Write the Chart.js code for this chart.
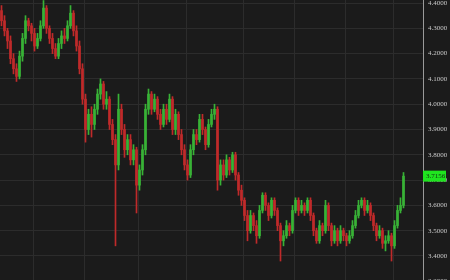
<!DOCTYPE html>
<html>
<head>
<meta charset="utf-8">
<script src="https://cdn.jsdelivr.net/npm/chart.js@4.4.0/dist/chart.umd.min.js"></script>
<style>
  html, body { margin: 0; padding: 0; background: #1b1b1b; }
  #wrap { width: 450px; height: 280px; }
</style>
</head>
<body>
<div id="wrap"><canvas id="pricechart" width="450" height="280"></canvas></div>
<script>
// candle values
const opens = [4.37, 4.33, 4.29, 4.25, 4.18, 4.14, 4.11, 4.19, 4.26, 4.33, 4.31, 4.28, 4.23, 4.26, 4.31, 4.38, 4.30, 4.26, 4.22, 4.19,
  4.24, 4.27, 4.26, 4.31, 4.36, 4.29, 4.23, 4.14, 4.02, 3.90, 3.96, 3.92, 3.98, 4.04, 4.08, 4.00, 4.02, 3.92, 3.86, 3.76,
  3.98, 3.90, 3.82, 3.86, 3.78, 3.82, 3.68, 3.74, 3.82, 3.98, 4.04, 3.98, 4.02, 3.96, 3.92, 3.98, 3.94, 4.02, 3.90, 3.96,
  3.88, 3.82, 3.76, 3.72, 3.82, 3.88, 3.86, 3.94, 3.90, 3.84, 3.92, 3.96, 3.98, 3.70, 3.76, 3.72, 3.78, 3.74, 3.80, 3.72,
  3.66, 3.62, 3.56, 3.50, 3.56, 3.52, 3.48, 3.58, 3.64, 3.60, 3.56, 3.62, 3.58, 3.52, 3.46, 3.48, 3.52, 3.50, 3.58, 3.62,
  3.58, 3.60, 3.58, 3.62, 3.56, 3.50, 3.46, 3.52, 3.50, 3.60, 3.52, 3.46, 3.50, 3.46, 3.50, 3.48, 3.46, 3.48, 3.52, 3.56,
  3.60, 3.62, 3.58, 3.60, 3.56, 3.52, 3.48, 3.50, 3.45, 3.46, 3.48, 3.44, 3.52, 3.58, 3.60]
const closes = [4.33, 4.29, 4.25, 4.18, 4.14, 4.11, 4.19, 4.26, 4.33, 4.31, 4.28, 4.23, 4.26, 4.31, 4.38, 4.30, 4.26, 4.22, 4.19, 4.24,
  4.27, 4.26, 4.31, 4.36, 4.29, 4.23, 4.14, 4.02, 3.90, 3.96, 3.92, 3.98, 4.04, 4.08, 4.00, 4.02, 3.92, 3.86, 3.76, 3.98,
  3.90, 3.82, 3.86, 3.78, 3.82, 3.68, 3.74, 3.82, 3.98, 4.04, 3.98, 4.02, 3.96, 3.92, 3.98, 3.94, 4.02, 3.90, 3.96, 3.88,
  3.82, 3.76, 3.72, 3.82, 3.88, 3.86, 3.94, 3.90, 3.84, 3.92, 3.96, 3.98, 3.70, 3.76, 3.72, 3.78, 3.74, 3.80, 3.72, 3.66,
  3.62, 3.56, 3.50, 3.56, 3.52, 3.48, 3.58, 3.64, 3.60, 3.56, 3.62, 3.58, 3.52, 3.46, 3.48, 3.52, 3.50, 3.58, 3.62, 3.58,
  3.60, 3.58, 3.62, 3.56, 3.50, 3.46, 3.52, 3.50, 3.60, 3.52, 3.46, 3.50, 3.46, 3.50, 3.48, 3.46, 3.48, 3.52, 3.56, 3.60,
  3.62, 3.58, 3.60, 3.56, 3.52, 3.48, 3.50, 3.45, 3.46, 3.48, 3.44, 3.52, 3.58, 3.60, 3.7156]
const highs = [4.39, 4.35, 4.30, 4.27, 4.20, 4.16, 4.21, 4.28, 4.35, 4.34, 4.32, 4.30, 4.28, 4.33, 4.41, 4.39, 4.31, 4.28, 4.24, 4.26,
  4.29, 4.30, 4.33, 4.39, 4.37, 4.31, 4.25, 4.16, 4.04, 3.98, 3.99, 4.00, 4.06, 4.10, 4.09, 4.05, 4.03, 3.94, 3.88, 4.04,
  4.00, 3.92, 3.88, 3.88, 3.84, 3.83, 3.76, 3.84, 4.00, 4.06, 4.05, 4.04, 4.03, 3.98, 4.00, 4.00, 4.04, 4.03, 3.98, 3.97,
  3.90, 3.84, 3.78, 3.84, 3.90, 3.90, 3.96, 3.96, 3.91, 3.94, 3.98, 4.00, 3.99, 3.78, 3.78, 3.80, 3.79, 3.81, 3.81, 3.73,
  3.68, 3.63, 3.58, 3.58, 3.57, 3.54, 3.60, 3.65, 3.65, 3.61, 3.63, 3.63, 3.59, 3.53, 3.50, 3.54, 3.53, 3.60, 3.63, 3.63,
  3.62, 3.61, 3.63, 3.63, 3.57, 3.51, 3.54, 3.53, 3.62, 3.61, 3.53, 3.52, 3.51, 3.52, 3.51, 3.49, 3.50, 3.54, 3.58, 3.62,
  3.63, 3.63, 3.62, 3.61, 3.57, 3.53, 3.52, 3.51, 3.48, 3.50, 3.49, 3.54, 3.60, 3.63, 3.73]
const lows = [4.31, 4.27, 4.22, 4.16, 4.12, 4.09, 4.10, 4.17, 4.24, 4.29, 4.25, 4.21, 4.22, 4.25, 4.30, 4.28, 4.24, 4.20, 4.18, 4.18,
  4.22, 4.24, 4.25, 4.30, 4.27, 4.21, 4.12, 4.00, 3.85, 3.88, 3.87, 3.90, 3.96, 4.02, 3.98, 3.98, 3.90, 3.84, 3.44, 3.74,
  3.88, 3.79, 3.80, 3.76, 3.76, 3.57, 3.66, 3.72, 3.80, 3.96, 3.96, 3.97, 3.94, 3.90, 3.91, 3.92, 3.93, 3.88, 3.88, 3.86,
  3.80, 3.74, 3.70, 3.71, 3.80, 3.84, 3.85, 3.88, 3.82, 3.83, 3.91, 3.94, 3.66, 3.68, 3.70, 3.71, 3.72, 3.73, 3.70, 3.64,
  3.60, 3.54, 3.46, 3.49, 3.50, 3.45, 3.47, 3.57, 3.58, 3.54, 3.55, 3.56, 3.50, 3.38, 3.44, 3.47, 3.48, 3.49, 3.57, 3.56,
  3.57, 3.56, 3.57, 3.54, 3.48, 3.45, 3.45, 3.48, 3.49, 3.50, 3.44, 3.45, 3.44, 3.45, 3.46, 3.44, 3.45, 3.47, 3.51, 3.55,
  3.59, 3.56, 3.57, 3.54, 3.50, 3.46, 3.47, 3.43, 3.42, 3.45, 3.38, 3.43, 3.51, 3.57, 3.59]

// price axis labels (3.3 sits just below the bottom edge, half cut off)
const priceTicks = [3.3, 3.4, 3.5, 3.6, 3.7, 3.8, 3.9, 4.0, 4.1, 4.2, 4.3, 4.4]
const lastPrice = closes[closes.length - 1]

// empty slots after the last candle, like the gap before the axis
const slots = Array.from({ length: 141 }, (_, i) => String(i))
const vgrid = [11, 28, 46, 62, 81, 98, 115, 131]

const upcolor = '#38b236', downcolor = '#bf2a2a'
const candlecolors = closes.map((c, i) => c >= opens[i] ? upcolor : downcolor)

const bgplugin = {
  id: 'bg',
  beforeDraw(chart) {
    const c = chart.ctx
    c.save()
    c.fillStyle = '#1b1b1b'
    c.fillRect(0, 0, chart.width, chart.height)
    c.restore()
  }
}

// green last-price tag on the axis
const tagplugin = {
  id: 'pricetag',
  afterDraw(chart) {
    const c = chart.ctx, y = chart.scales.y.getPixelForValue(lastPrice)
    const x = chart.chartArea.right
    c.save()
    c.fillStyle = '#1fe41f'
    c.fillRect(x, y - 5.5, 23, 11)
    c.fillStyle = '#103010'
    c.font = '7px "Liberation Serif"'
    c.textBaseline = 'middle'
    c.fillText(lastPrice.toFixed(4), x + 3, y + 0.5)
    c.restore()
  }
}

new Chart(document.getElementById('pricechart').getContext('2d'), {
  type: 'bar',
  data: {
    labels: slots,
    datasets: [
      {
        label: 'range',
        data: lows.map((l, i) => [l, highs[i]]),
        backgroundColor: candlecolors,
        barThickness: 1,
        grouped: false,
        order: 2
      },
      {
        label: 'body',
        data: opens.map((o, i) => [o, closes[i]]),
        backgroundColor: candlecolors,
        barThickness: 2,
        grouped: false,
        order: 1
      }
    ]
  },
  options: {
    responsive: false,
    animation: false,
    layout: { padding: 0 },
    plugins: { legend: { display: false }, tooltip: { enabled: false } },
    scales: {
      x: {
        ticks: { display: false },
        border: { display: false },
        afterFit: (scale) => { scale.height = 0; scale.paddingLeft = 0; scale.paddingRight = 0 },
        grid: {
          drawTicks: false,
          lineWidth: 1,
          color: (ctx) => vgrid.includes(ctx.index) ? '#2c2c2c' : 'rgba(0,0,0,0)'
        }
      },
      y: {
        position: 'right',
        min: 3.305,
        max: 4.412,
        afterBuildTicks: (scale) => { scale.ticks = priceTicks.map(v => ({ value: v })) },
        afterFit: (scale) => { scale.width = 27; scale.paddingTop = 0; scale.paddingBottom = 0 },
        border: { display: true, color: '#9a9a9a', width: 1 },
        grid: { drawTicks: false, color: '#2c2c2c' },
        ticks: {
          padding: 5,
          color: '#c8c8c8',
          font: { size: 7, family: 'Liberation Serif' },
          callback: (v) => Number(v).toFixed(4)
        }
      }
    }
  },
  plugins: [bgplugin, tagplugin]
})
</script>
</body>
</html>
